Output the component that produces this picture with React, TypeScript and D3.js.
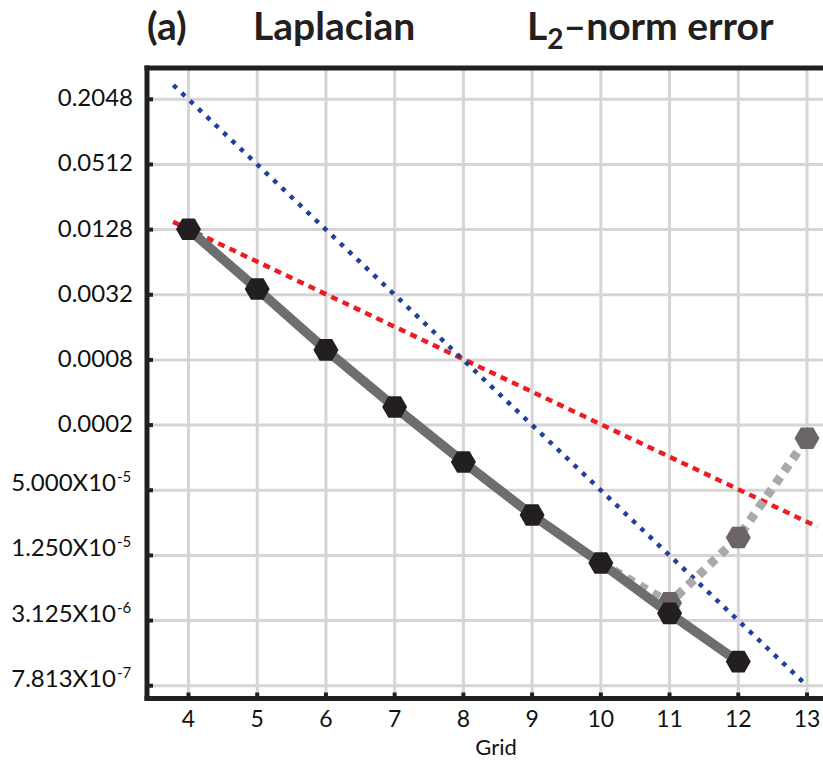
import * as d3 from "d3";
import React from "react";

// grid levels and L2 errors
const gridLevels = [4, 5, 6, 7, 8, 9, 10, 11, 12];
const laplacianErr = [0.0129, 0.00362, 0.00099, 0.000294, 9.12e-5, 2.95e-5, 1.063e-5, 3.64e-6, 1.306e-6];
const altGrid = [10, 11, 12, 13];
const altErr = [1.063e-5, 4.55e-6, 1.83e-5, 1.51e-4];

// reference slopes (dotted), endpoints only
const firstOrderX = [3.775, 13.15];
const firstOrderY = [0.0151, 2.3e-5];
const secondOrderX = [3.78, 13];
const secondOrderY = [0.2775, 7.8125e-7];

const xTicks = [4, 5, 6, 7, 8, 9, 10, 11, 12, 13];
const yTicks = [0.2048, 0.0512, 0.0128, 0.0032, 0.0008, 0.0002, 5e-5, 1.25e-5, 3.125e-6, 7.8125e-7];
const yTickMantissa = ["0.2048", "0.0512", "0.0128", "0.0032", "0.0008", "0.0002", "5.000X10", "1.250X10", "3.125X10", "7.813X10"];
const yTickExp = ["", "", "", "", "", "", "-5", "-5", "-6", "-7"];

const W = 823;
const H = 760;
const left = 147;
const top = 68;
const bottom = 698.5;
const right = 830;

const font = "Lato, 'Open Sans', sans-serif";

const hexPath = (cx: number, cy: number, r: number) => {
  const pts = d3.range(6).map((i) => {
    const a = (Math.PI / 3) * i;
    return [cx + r * Math.cos(a), cy + r * Math.sin(a)];
  });
  return "M" + pts.map((p) => p.join(",")).join("L") + "Z";
};

export default function App() {
  const x = d3.scaleLinear().domain([4, 13]).range([188.5, 807]);
  const y = d3.scaleLog().domain([7.8125e-7, 0.2048]).range([685.7, 99.3]);

  const line = d3
    .line<[number, number]>()
    .x((d) => x(d[0]))
    .y((d) => y(d[1]));

  const mainPts = gridLevels.map((g, i) => [g, laplacianErr[i]] as [number, number]);
  const altPts = altGrid.map((g, i) => [g, altErr[i]] as [number, number]);
  const redPts = firstOrderX.map((g, i) => [g, firstOrderY[i]] as [number, number]);
  const bluePts = secondOrderX.map((g, i) => [g, secondOrderY[i]] as [number, number]);

  return (
    <svg
      width={W}
      height={H}
      style={{ position: "absolute", left: 0, top: 0, background: "#fff" }}
      fontFamily={font}
    >
      {/* grid */}
      <g stroke="#d5d5d6" strokeWidth={3}>
        {xTicks.map((t) => (
          <line key={"gx" + t} x1={x(t)} x2={x(t)} y1={top} y2={bottom} />
        ))}
        {yTicks.map((t) => (
          <line key={"gy" + t} x1={left} x2={right} y1={y(t)} y2={y(t)} />
        ))}
      </g>

      {/* reference slopes */}
      <path d={line(redPts) || ""} fill="none" stroke="#ed1c24" strokeWidth={4.5} strokeDasharray="7,5.5" />
      <path d={line(bluePts) || ""} fill="none" stroke="#21409a" strokeWidth={4.5} strokeDasharray="4.5,7" />

      {/* alternative series */}
      <path d={line(altPts) || ""} fill="none" stroke="#a7a9ac" strokeWidth={9} strokeDasharray="8,7" />
      {altPts.slice(1).map((p, i) => (
        <path key={"ah" + i} d={hexPath(x(p[0]), y(p[1]), 12.5)} fill="#6b6565" />
      ))}

      {/* main series */}
      <path d={line(mainPts) || ""} fill="none" stroke="#6d6e70" strokeWidth={9.5} />
      {mainPts.map((p, i) => (
        <path key={"mh" + i} d={hexPath(x(p[0]), y(p[1]), 12.5)} fill="#231f20" />
      ))}

      {/* frame */}
      <g stroke="#231f20" strokeWidth={5}>
        <line x1={left - 2.5} x2={right} y1={top} y2={top} />
        <line x1={left} x2={left} y1={top - 2.5} y2={bottom + 2} />
        <line x1={left - 2.5} x2={right} y1={bottom} y2={bottom} />
      </g>
      <g fill="#231f20">
        {yTicks.map((t) => (
          <rect key={"ty" + t} x={left + 2} y={y(t) - 2} width={4} height={4} />
        ))}
        {xTicks.map((t) => (
          <rect key={"tx" + t} x={x(t) - 2} y={bottom - 6} width={4} height={4} />
        ))}
      </g>

      {/* y tick labels */}
      <g fontSize={24} fill="#111" textAnchor="end">
        {yTicks.map((t, i) =>
          yTickExp[i] ? (
            <g key={"yl" + t}>
              <text x={116} y={y(t) + 1}>
                {yTickMantissa[i]}
              </text>
              <text x={117} y={y(t) - 8} fontSize={15} textAnchor="start">
                {yTickExp[i]}
              </text>
            </g>
          ) : (
            <text key={"yl" + t} x={133} y={y(t) + 7}>
              {yTickMantissa[i]}
            </text>
          )
        )}
      </g>

      {/* x tick labels */}
      <g fontSize={23} fill="#111" textAnchor="middle">
        {xTicks.map((t) => (
          <text key={"xl" + t} x={x(t)} y={727}>
            {t}
          </text>
        ))}
      </g>
      <text x={496} y={755} fontSize={22} textAnchor="middle" fill="#111">
        Grid
      </text>

      {/* titles */}
      <g fontSize={39} fontWeight="bold" fill="#231f20">
        <text x={147} y={40}>(a)</text>
        <text x={253} y={40}>Laplacian</text>
        <text x={527} y={40}>
          L<tspan fontSize={28} dy={9}>2</tspan>
          <tspan dy={-9}>–norm error</tspan>
        </text>
      </g>
    </svg>
  );
}
